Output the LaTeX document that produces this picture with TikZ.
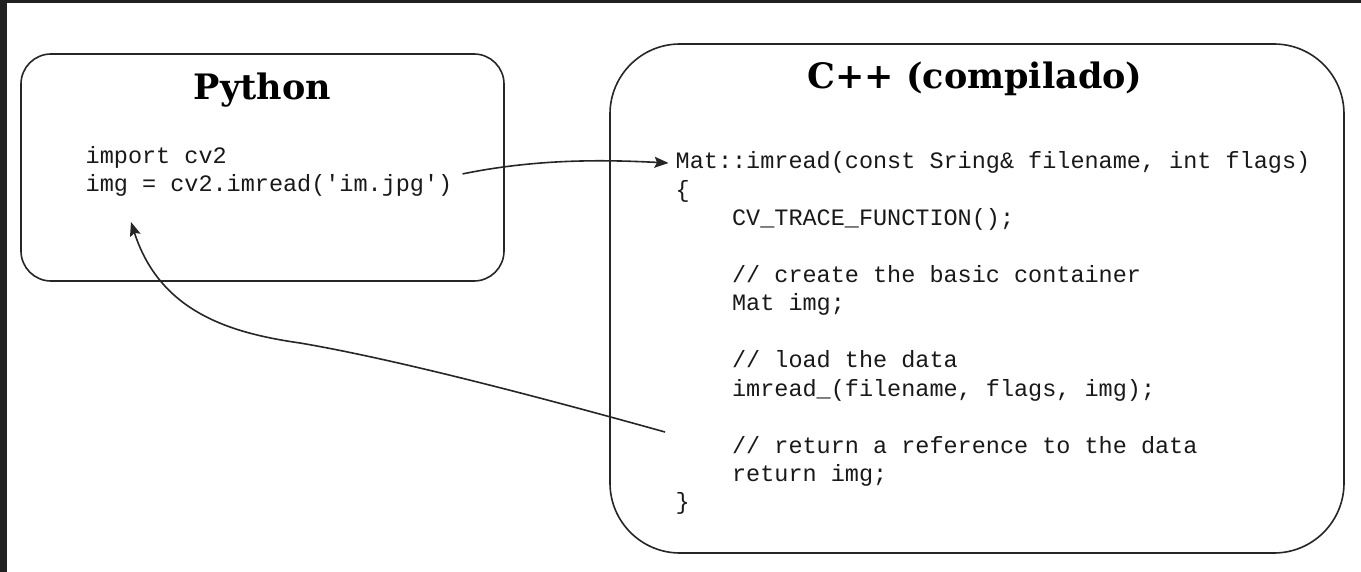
\documentclass[tikz,border=0pt]{standalone}
\usepackage{fontspec}
\usetikzlibrary{arrows.meta}
\newfontfamily\codefont{Liberation Mono}[Ligatures=NoCommon]
\newfontfamily\titlefont{DejaVu Serif}
\definecolor{framegray}{HTML}{212121}
\newcommand\ind{\phantom{MMMM}}
\tikzset{
  boxshape/.style={draw=black!85, line width=1.6pt, fill=white, inner sep=0pt},
  titletext/.style={font=\titlefont\bfseries\fontsize{35}{40}\selectfont, inner sep=0pt, anchor=base},
  codeline/.style={font=\codefont\fontsize{23.5}{28.4}\selectfont, inner sep=0pt, anchor=base west, text=black!90},
  arr/.style={draw=black!85, line width=1.6pt, -{Stealth[length=14pt,width=11pt,inset=2.5pt]}}
}
\begin{document}
\begin{tikzpicture}[x=1pt,y=-1pt]
\useasboundingbox (0,0) rectangle (1361,572);
\fill[white] (0,0) rectangle (1361,572);
\fill[framegray] (0,0) rectangle (1361,3);
\fill[framegray] (0,0) rectangle (7,572);

% boxes
\node[boxshape, rounded corners=30pt, minimum width=483pt, minimum height=227pt] (pybox) at (262.5,167.5) {};
\node[boxshape, rounded corners=70pt, minimum width=734pt, minimum height=509pt] (cppbox) at (977,298.5) {};

% titles
\node[titletext] (pytitle) at (262.5,100) {Python};
\node[titletext] (cpptitle) at (975,89) {C++ (compilado)};

% python code
\node[codeline] (py1) at (85.5,164) {import cv2};
\node[codeline] (py2) at (85.5,192) {img = cv2.imread(\textquotesingle im.jpg\textquotesingle)};

% c++ code
\node[codeline] (c1)  at (675.5,169.0) {Mat::imread(const Sring\& filename, int flags)};
\node[codeline] (c2)  at (675.5,197.4) {\{};
\node[codeline] (c3)  at (675.5,225.8) {\ind CV\_TRACE\_FUNCTION();};
\node[codeline] (c5)  at (675.5,282.6) {\ind // create the basic container};
\node[codeline] (c6)  at (675.5,311.0) {\ind Mat img;};
\node[codeline] (c8)  at (675.5,367.8) {\ind // load the data};
\node[codeline] (c9)  at (675.5,396.2) {\ind imread\_(filename, flags, img);};
\node[codeline] (c11) at (675.5,453.0) {\ind // return a reference to the data};
\node[codeline] (c12) at (675.5,481.4) {\ind return img;};
\node[codeline] (c13) at (675.5,509.8) {\}};

% connectors
\coordinate (retstart) at (665,432);
\coordinate (retmid) at (300,343);
\coordinate (retend) at (131,222);
\draw[arr] ([xshift=10pt,yshift=12pt]py2.east) .. controls (540,158) and (610,160) .. ([xshift=-7pt,yshift=6pt]c1.base west);
\draw[arr] (retstart) .. controls (550,400) and (400,360) .. (retmid)
  .. controls (230,333) and (160,312) .. (retend);
\end{tikzpicture}
\end{document}
